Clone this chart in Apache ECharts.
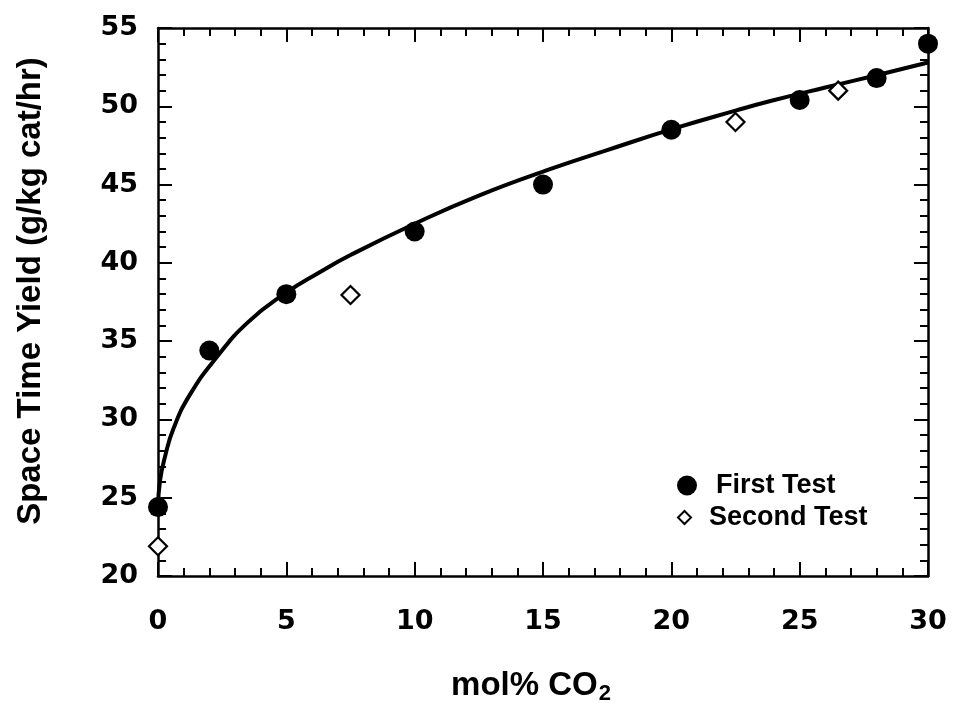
<!DOCTYPE html>
<html>
<head>
<meta charset="utf-8">
<title>Space Time Yield vs mol% CO2</title>
<script src="https://cdn.jsdelivr.net/npm/echarts@6/dist/echarts.min.js"></script>
<style>
  html, body { margin: 0; padding: 0; background: #fff; }
  #chart { width: 953px; height: 727px; }
</style>
</head>
<body>
<div id="chart"></div>
<script>
// Measured data: space time yield versus CO2 content of the feed
const firstTestX = [0, 2, 5, 10, 15, 20, 25, 28, 30];
const firstTestY = [24.4, 34.4, 38.0, 42.0, 45.0, 48.5, 50.4, 51.8, 54.0];

const secondTestX = [0, 7.5, 22.5, 26.5];
const secondTestY = [21.9, 37.95, 49.0, 51.0];

// Fitted trend curve
const fitX = [0, 0.08, 0.27, 0.6, 1.25, 2.3, 3.5, 5, 6.3, 7.5, 10, 12.5, 15.3, 17.5, 20.15, 22.5, 23.9, 26, 28, 30];
const fitY = [24.4, 26.1, 27.6, 29.4, 31.6, 34.0, 36.2, 38.1, 39.4, 40.5, 42.5, 44.3, 46.0, 47.2, 48.6, 49.72, 50.35, 51.2, 51.98, 52.8];

// Axis ticks
const xTicks = { min: 0, max: 30, step: 5 };
const yTicks = { min: 20, max: 55, step: 5 };

const pairs = (xs, ys) => xs.map((x, i) => [x, ys[i]]);

const tickFont = { fontFamily: 'DejaVu Sans', fontWeight: 'bold', fontSize: 27, color: '#000' };
const titleFont = { fontFamily: 'Liberation Sans', fontWeight: 'bold', color: '#000' };

function axisBase(pos, range, withLabels) {
  return {
    type: 'value',
    position: pos,
    min: range.min,
    max: range.max,
    interval: range.step,
    axisLine: { show: true, onZero: false, lineStyle: { color: '#000', width: 2.5 } },
    axisTick: { show: true, inside: true, length: 14, lineStyle: { color: '#000', width: 2 } },
    minorTick: { show: true, splitNumber: 5, length: 8, lineStyle: { color: '#000', width: 2 } },
    splitLine: { show: false },
    minorSplitLine: { show: false },
    axisLabel: withLabels ? Object.assign({ show: true }, tickFont) : { show: false }
  };
}

const chart = echarts.init(document.getElementById('chart'), null, { renderer: 'canvas' });

const xBottom = axisBase('bottom', xTicks, true);
xBottom.axisLabel.margin = 32;
xBottom.name = 'mol% CO{sub|2}';
xBottom.nameLocation = 'middle';
xBottom.nameGap = 90;
xBottom.nameTextStyle = Object.assign({}, titleFont, {
  fontSize: 33,
  padding: [0, 24, 0, 0],
  rich: {
    sub: Object.assign({}, titleFont, { fontSize: 22, verticalAlign: 'bottom', padding: [17, 0, 0, 1] })
  }
});

const xTop = axisBase('top', xTicks, false);

const yLeft = axisBase('left', yTicks, true);
yLeft.axisLabel.margin = 20;
yLeft.name = 'Space Time Yield (g/kg cat/hr)';
yLeft.nameLocation = 'middle';
yLeft.nameGap = 111;
yLeft.nameTextStyle = Object.assign({}, titleFont, { fontSize: 33, padding: [0, 0, 0, 22] });

const yRight = axisBase('right', yTicks, false);

chart.setOption({
  backgroundColor: '#fff',
  animation: false,
  grid: { left: 158, right: 25, top: 28, bottom: 151, containLabel: false },
  xAxis: [xBottom, xTop],
  yAxis: [yLeft, yRight],
  legend: [
    {
      data: [{ name: 'First Test', icon: 'circle' }],
      orient: 'vertical',
      left: 672,
      top: 467,
      itemWidth: 20,
      itemHeight: 20,
      textStyle: Object.assign({}, titleFont, { fontSize: 27, padding: [0, 0, 0, 14] })
    },
    {
      data: [{ name: 'Second Test', icon: 'diamond' }],
      orient: 'vertical',
      left: 672,
      top: 499,
      itemWidth: 13,
      itemHeight: 13,
      textStyle: Object.assign({}, titleFont, { fontSize: 27, padding: [0, 0, 0, 13] })
    }
  ],
  series: [
    {
      name: 'Fit',
      type: 'line',
      data: pairs(fitX, fitY),
      smooth: 0.5,
      showSymbol: false,
      symbol: 'none',
      lineStyle: { color: '#000', width: 4 },
      z: 2,
      silent: true
    },
    {
      name: 'First Test',
      type: 'scatter',
      data: pairs(firstTestX, firstTestY),
      symbol: 'circle',
      symbolSize: 20,
      itemStyle: { color: '#000', opacity: 1 },
      clip: false,
      z: 3
    },
    {
      name: 'Second Test',
      type: 'scatter',
      data: pairs(secondTestX, secondTestY),
      symbol: 'diamond',
      symbolSize: 18,
      itemStyle: { color: '#fff', borderColor: '#000', borderWidth: 2.2, opacity: 1 },
      clip: false,
      z: 3
    }
  ]
});
</script>
</body>
</html>
